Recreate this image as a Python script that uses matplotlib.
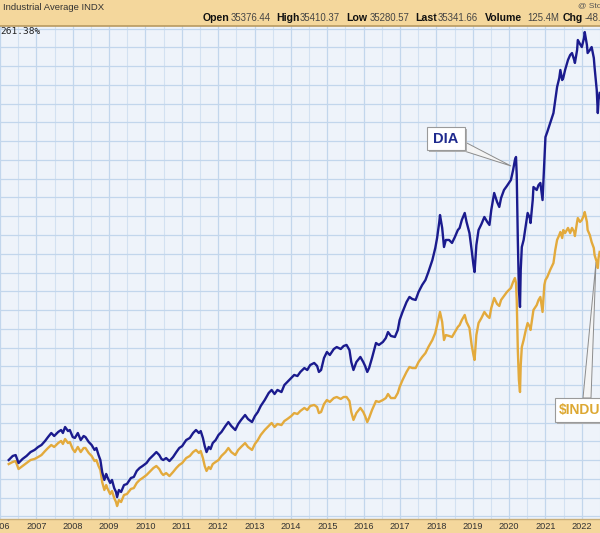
import matplotlib.pyplot as plt
from matplotlib.patches import Rectangle, Polygon
from matplotlib.transforms import blended_transform_factory

# decimal year of each reading, shared by both series
dates = [
    2006.24, 2006.35, 2006.43, 2006.51, 2006.62, 2006.73, 2006.84, 2006.95, 2007.05, 2007.14,
    2007.24, 2007.32, 2007.41, 2007.49, 2007.60, 2007.68, 2007.73, 2007.79, 2007.87, 2007.92,
    2008.00, 2008.06, 2008.14, 2008.22, 2008.30, 2008.35, 2008.44, 2008.52, 2008.60, 2008.65,
    2008.71, 2008.76, 2008.81, 2008.87, 2008.92, 2008.95, 2009.03, 2009.08, 2009.14, 2009.19,
    2009.22, 2009.27, 2009.33, 2009.41, 2009.49, 2009.60, 2009.68, 2009.76, 2009.84, 2009.92,
    2010.03, 2010.11, 2010.22, 2010.30, 2010.38, 2010.44, 2010.49, 2010.57, 2010.66, 2010.76,
    2010.85, 2010.93, 2011.01, 2011.12, 2011.22, 2011.31, 2011.39, 2011.47, 2011.52, 2011.58,
    2011.63, 2011.68, 2011.74, 2011.79, 2011.85, 2011.93, 2012.01, 2012.09, 2012.20, 2012.28,
    2012.36, 2012.47, 2012.55, 2012.63, 2012.74, 2012.82, 2012.93, 2013.01, 2013.09, 2013.17,
    2013.28, 2013.39, 2013.47, 2013.55, 2013.63, 2013.74, 2013.82, 2013.90, 2014.01, 2014.09,
    2014.18, 2014.26, 2014.37, 2014.45, 2014.53, 2014.64, 2014.72, 2014.77, 2014.83, 2014.91,
    2014.99, 2015.07, 2015.18, 2015.26, 2015.37, 2015.45, 2015.53, 2015.61, 2015.66, 2015.72,
    2015.80, 2015.91, 2015.99, 2016.04, 2016.10, 2016.15, 2016.23, 2016.34, 2016.42, 2016.53,
    2016.61, 2016.67, 2016.75, 2016.86, 2016.94, 2016.99, 2017.07, 2017.18, 2017.26, 2017.34,
    2017.43, 2017.51, 2017.61, 2017.70, 2017.78, 2017.89, 2017.97, 2018.02, 2018.08, 2018.10,
    2018.16, 2018.21, 2018.26, 2018.35, 2018.43, 2018.51, 2018.59, 2018.64, 2018.70, 2018.78,
    2018.83, 2018.91, 2018.97, 2019.02, 2019.05, 2019.10, 2019.16, 2019.24, 2019.32, 2019.40,
    2019.46, 2019.51, 2019.59, 2019.67, 2019.73, 2019.78, 2019.86, 2019.94, 2020.05, 2020.11,
    2020.16, 2020.19, 2020.21, 2020.24, 2020.27, 2020.30, 2020.32, 2020.35, 2020.40, 2020.46,
    2020.51, 2020.57, 2020.59, 2020.65, 2020.67, 2020.76, 2020.81, 2020.86, 2020.92, 2020.97,
    2021.00, 2021.05, 2021.13, 2021.22, 2021.27, 2021.32, 2021.38, 2021.41, 2021.46, 2021.49,
    2021.54, 2021.62, 2021.68, 2021.73, 2021.79, 2021.81, 2021.87, 2021.89, 2021.95, 2022.00,
    2022.06, 2022.08, 2022.14, 2022.16, 2022.22, 2022.27, 2022.33, 2022.35, 2022.41, 2022.44,
    2022.46, 2022.49,
]

# % change, DIA
dia = [
    0.0, 2.7, 3.3, -2.0, 0.7, 2.7, 5.3, 6.7, 8.7, 10.0,
    12.7, 15.3, 18.0, 16.0, 18.7, 20.0, 18.0, 22.0, 19.3, 20.0,
    15.3, 14.7, 18.0, 13.3, 16.0, 15.3, 12.0, 10.0, 6.7, 8.0,
    3.3, 0.0, -8.0, -13.3, -9.3, -11.3, -15.3, -13.3, -18.7, -21.3,
    -24.7, -20.0, -21.3, -16.7, -16.0, -12.0, -11.3, -7.3, -5.3, -4.0,
    -2.0, 0.7, 3.3, 5.3, 3.3, 0.7, 0.0, 1.3, -0.7, 2.0,
    5.3, 8.0, 9.3, 13.3, 14.7, 18.0, 20.0, 18.0, 19.3, 14.7,
    9.3, 5.3, 8.7, 7.3, 11.3, 13.3, 16.7, 18.7, 22.7, 25.3,
    22.7, 20.0, 24.0, 26.7, 30.0, 27.3, 25.3, 29.3, 32.0, 36.0,
    40.0, 44.7, 46.7, 44.0, 46.7, 45.3, 50.0, 52.0, 54.7, 56.7,
    56.0, 58.7, 61.3, 60.0, 63.3, 64.7, 62.7, 58.7, 60.0, 68.0,
    72.0, 70.0, 74.0, 75.3, 74.0, 76.0, 76.7, 73.3, 65.3, 60.0,
    65.3, 68.7, 65.3, 62.7, 58.7, 61.3, 68.0, 78.0, 76.7, 78.7,
    81.3, 85.3, 82.7, 82.0, 86.7, 93.3, 98.7, 105.3, 108.7, 107.3,
    106.7, 112.0, 116.7, 120.0, 125.3, 133.3, 141.3, 148.0, 158.7, 163.3,
    154.7, 142.0, 146.7, 146.7, 144.7, 148.7, 153.3, 154.7, 160.0, 164.7,
    158.7, 151.3, 140.0, 130.0, 125.3, 143.3, 153.3, 157.3, 162.0, 158.7,
    156.7, 166.7, 178.0, 172.0, 168.7, 174.7, 180.0, 182.7, 186.7, 193.3,
    200.0, 202.0, 190.0, 146.7, 113.3, 102.0, 126.7, 142.0, 146.7, 156.7,
    164.7, 161.3, 158.0, 173.3, 182.0, 180.0, 183.3, 184.7, 173.3, 200.0,
    215.3, 218.7, 224.7, 231.3, 240.0, 248.7, 254.7, 260.0, 253.3, 254.7,
    260.0, 266.7, 270.0, 271.3, 266.7, 264.7, 273.3, 280.0, 277.3, 275.3,
    281.3, 285.3, 276.7, 271.3, 273.3, 275.3, 268.0, 262.0, 246.7, 231.3,
    240.0, 244.7,
]

# % change, $INDU
indu = [
    -2.7, -1.3, -0.7, -6.0, -4.0, -2.0, 0.0, 0.7, 2.0, 3.3,
    6.0, 8.0, 10.0, 8.7, 11.3, 12.7, 10.7, 14.0, 11.3, 12.0,
    7.3, 5.3, 8.7, 5.3, 8.0, 8.0, 4.7, 2.7, -0.7, 0.0,
    -4.0, -6.7, -14.7, -20.0, -16.7, -18.7, -22.7, -20.7, -25.3, -28.0,
    -30.7, -26.7, -28.0, -23.3, -22.7, -19.3, -18.7, -15.3, -13.3, -12.0,
    -10.0, -8.0, -5.3, -4.0, -6.0, -8.7, -10.0, -8.7, -10.7, -8.0,
    -5.3, -3.3, -2.0, 1.3, 2.7, 5.3, 6.7, 4.7, 6.0, 1.3,
    -4.0, -7.3, -4.7, -6.0, -2.7, -1.3, 0.0, 2.7, 5.3, 8.0,
    5.3, 3.3, 6.7, 8.7, 11.3, 8.7, 6.7, 10.7, 13.3, 16.7,
    20.0, 22.7, 24.7, 22.0, 24.0, 23.3, 26.0, 27.3, 29.3, 31.3,
    30.7, 32.7, 34.7, 33.3, 36.0, 36.7, 35.3, 31.3, 32.0, 37.3,
    40.0, 38.7, 41.3, 42.0, 40.7, 42.0, 42.0, 39.3, 32.0, 26.7,
    31.3, 34.7, 32.0, 29.3, 25.3, 28.0, 33.3, 39.3, 38.7, 40.0,
    41.3, 44.0, 41.3, 41.3, 44.7, 48.7, 53.3, 58.7, 62.0, 61.3,
    61.3, 65.3, 68.7, 71.3, 75.3, 80.0, 84.7, 90.0, 96.7, 98.7,
    92.0, 80.0, 83.3, 82.7, 82.0, 85.3, 88.7, 90.0, 93.3, 96.7,
    92.0, 88.0, 76.7, 70.0, 66.7, 83.3, 91.3, 94.7, 98.7, 96.0,
    94.7, 101.3, 108.0, 104.0, 102.7, 106.7, 109.3, 112.0, 114.7, 118.7,
    121.3, 118.0, 106.7, 73.3, 53.3, 45.3, 63.3, 75.3, 80.0, 86.7,
    91.3, 88.7, 86.7, 96.7, 100.0, 103.3, 106.7, 108.7, 98.7, 116.7,
    120.0, 122.0, 126.7, 131.3, 140.0, 146.7, 150.0, 152.0, 148.0, 153.3,
    151.3, 154.7, 151.3, 154.7, 152.0, 149.3, 158.7, 161.3, 158.7, 160.0,
    163.3, 165.3, 158.7, 153.3, 150.0, 145.3, 141.3, 136.7, 132.0, 128.0,
    134.7, 138.7,
]

years = list(range(2006, 2023))
header_fields = [("Open", "35376.44"), ("High", "35410.37"), ("Low", "35280.57"),
                 ("Last", "35341.66"), ("Volume", "125.4M"), ("Chg", "-48.")]

W, H = 600, 533
TAN = '#F4D79C'
NAVY = '#1B1B8E'
GOLD = '#E3AA3C'

fig = plt.figure(figsize=(W / 100, H / 100), dpi=100)
ax = fig.add_axes([0, 14 / H, 1, 493 / H])
ax.set_facecolor('#EEF3FA')

ax.set_xlim(2006.24, 2022.49)
ax.set_ylim(-39.33, 289.33)
ax.set_yticks([-37.5 + 12.5 * i for i in range(27)])
ax.set_xticks(years)
ax.set_xticks([y + 0.5 for y in years], minor=True)
ax.grid(True, which='major', color='#C2D6EC', lw=0.9)
ax.grid(True, which='minor', axis='x', color='#D3E1F1', lw=0.8)
ax.tick_params(which='both', length=0, labelbottom=False, labelleft=False)
for s in ax.spines.values():
    s.set_visible(False)
ax.set_axisbelow(True)

ax.plot(dates, indu, color=GOLD, lw=1.7, solid_joinstyle='round')
ax.plot(dates, dia, color=NAVY, lw=1.7, solid_joinstyle='round')


def px(x, y):
    # pixel position -> axes fraction, for the callouts
    return x / W, (519 - y) / 493


# DIA callout
ax.add_patch(Polygon([px(463, 141), px(461, 150), px(511, 166)], closed=True,
                     transform=ax.transAxes, facecolor='#F4F4F4', edgecolor='#8C8C8C', lw=0.7))
x0, y0 = px(427, 150)
ax.add_patch(Rectangle((x0 + 2 / W, y0 - 2 / 493), 38 / W, 23 / 493, transform=ax.transAxes,
                       facecolor='#B0B0B0', edgecolor='none'))
ax.add_patch(Rectangle((x0, y0), 38 / W, 23 / 493, transform=ax.transAxes,
                       facecolor='white', edgecolor='#9A9A9A', lw=0.8))
ax.text(*px(446, 139), "DIA", transform=ax.transAxes, ha='center', va='center',
        fontsize=10.5, fontweight='bold', color='#1E2A8E', family='Liberation Sans')

# $INDU callout
ax.add_patch(Polygon([px(583, 398), px(591, 398), px(596, 262)], closed=True,
                     transform=ax.transAxes, facecolor='#F4F4F4', edgecolor='#8C8C8C', lw=0.7,
                     clip_on=False))
x0, y0 = px(555, 422)
ax.add_patch(Rectangle((x0 + 2 / W, y0 - 2 / 493), 60 / W, 24 / 493, transform=ax.transAxes,
                       facecolor='#B0B0B0', edgecolor='none', clip_on=False))
ax.add_patch(Rectangle((x0, y0), 60 / W, 24 / 493, transform=ax.transAxes,
                       facecolor='white', edgecolor='#9A9A9A', lw=0.8, clip_on=False))
ax.text(*px(559, 410), "$INDU", transform=ax.transAxes, ha='left', va='center',
        fontsize=10, fontweight='bold', color='#DDA832', family='Liberation Sans')

ax.text(*px(0, 32), "261.38%", transform=ax.transAxes, ha='left', va='center',
        fontsize=6.8, color='#222222', family='DejaVu Sans Mono')

# header band
fig.patches.append(Rectangle((0, (H - 26) / H), 1, 26 / H, transform=fig.transFigure,
                             facecolor=TAN, edgecolor='none', zorder=0))
fig.add_artist(plt.Line2D([0, 1], [(H - 25.5) / H] * 2, color='#B89A60', lw=1.2))
fig.text(3 / W, 1 - 7 / H, "Industrial Average INDX", ha='left', va='center',
         fontsize=6.8, color='#333333', family='Liberation Sans')
fig.text(578 / W, 1 - 6 / H, "@ Sto", ha='left', va='center',
         fontsize=6, color='#555555', family='Liberation Sans')
label_x = [203, 276, 346, 415, 485, 563]
value_x = [231, 300, 370, 438, 527, 585]
for (lab, val), lx, vx in zip(header_fields, label_x, value_x):
    fig.text(lx / W, 1 - 18 / H, lab, ha='left', va='center', fontsize=7.6,
             fontweight='bold', color='#111111', family='Liberation Sans')
    fig.text(vx / W, 1 - 18 / H, val, ha='left', va='center', fontsize=6.9,
             color='#444444', family='Liberation Sans')

# bottom date band
fig.patches.append(Rectangle((0, 0), 1, 14 / H, transform=fig.transFigure,
                             facecolor=TAN, edgecolor='none', zorder=0))
fig.add_artist(plt.Line2D([0, 1], [14 / H] * 2, color='#C9AE78', lw=1.0))
trans = blended_transform_factory(ax.transData, fig.transFigure)
for yr in years:
    fig.text(yr, 6.5 / H, str(yr), transform=trans, ha='center', va='center',
             fontsize=6.6, color='#333333', family='Liberation Sans', zorder=5)

fig.savefig('out.png', dpi=100)
